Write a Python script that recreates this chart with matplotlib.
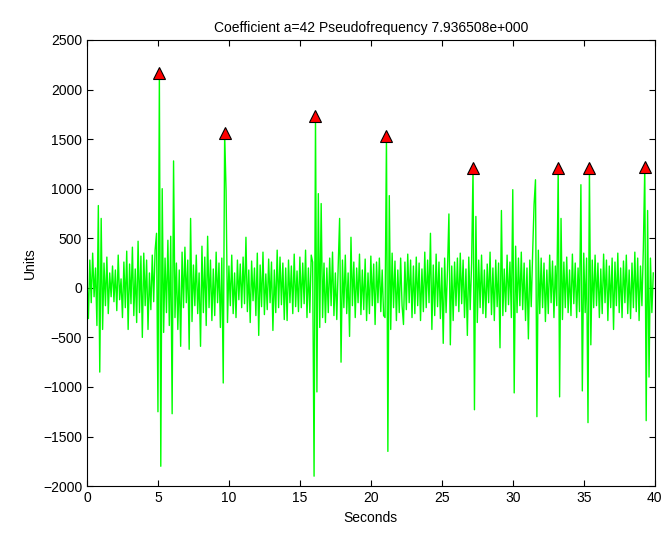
import numpy as np
import matplotlib.pyplot as plt

plt.rcParams['font.family'] = ['Liberation Sans', 'DejaVu Sans']

# signal sampled every 0.1 s, one row per second
step = 0.1
signal = [
    120, -310, 280, -150, 350, -90, 200, -380, 830, -850,
    700, -420, 250, -180, 310, -260, 150, -90, 220, -140,
    180, -230, 330, -120, 90, -300, 260, -200, 370, -420,
    240, -160, 410, -280, 190, -350, 470, -250, 320, -500,
    350, -180, 280, -420, 150, -220, 330, -140, 380, 550,
    -1250, 2170, -1800, 1000, -450, 300, -250, 480, -380, 520,
    -1270, 1280, -300, 250, -420, 180, -590, 360, -200, 410,
    -150, 280, -620, 700, -340, 230, -180, 330, -260, 150,
    -590, 420, -250, 310, -380, 520, -200, 280, -330, 190,
    -280, 360, -150, 250, -400, 300, -960, 1560, 980, -350,
    220, -180, 330, -260, 150, -300, 280, -120, 240, -200,
    310, -160, 510, -240, 180, -350, 270, -130, 200, -280,
    350, -480, 230, -190, 360, -270, 140, -220, 290, -150,
    260, -430, 180, -250, 380, -200, 310, -170, 250, -320,
    200, -330, 280, -150, 220, -260, 340, -190, 170, -240,
    310, -200, 250, -160, 380, -300, 200, -250, 330, 260,
    -1900, 1730, -1050, 950, -400, 850, -300, 250, -350, 200,
    -250, 300, -180, 360, -280, 150, -320, 220, 700, -750,
    280, -200, 330, -260, 150, -490, 510, -180, 260, -300,
    200, -150, 340, -270, 180, -220, 290, -330, 150, -260,
    320, -180, 240, -370, 260, -150, 300, -240, 180, -280,
    -300, 1530, -1650, 930, -420, 350, -200, 270, -330, 180,
    -250, 300, -180, -370, 260, -220, 340, -150, 280, -300,
    220, -260, 310, -180, 250, -330, 190, -240, 360, -200,
    280, -150, 550, -420, 230, -280, 340, -190, 260, -310,
    200, -560, 300, -250, 180, 745, -575, 220, -330, 260,
    -180, 300, -240, 350, -160, 280, -300, 190, -480, 310,
    -220, 250, 1210, -1230, 720, -350, 280, -200, 330, -260,
    180, -300, 240, -150, 360, -270, 200, -330, 280, -190,
    250, -605, 780, -280, 190, -240, 330, -170, 260, -300,
    990, -1060, 420, -250, 300, -180, 360, -220, 250, -330,
    200, -515, 280, -190, 350, 840, 1090, -1300, 380, -260,
    300, -200, 250, -340, 180, -260, 330, -150, 270, -300,
    220, -180, 1210, -1100, 700, -320, 260, -200, 310, -250,
    180, -280, 340, -160, 250, -300, 200, -240, 1040, -1040,
    350, -250, 300, -1360, 1210, -575, 280, -200, 330, -180,
    250, -300, 190, -260, 340, -150, 280, -330, 220, -200,
    300, -420, 260, -180, 350, -250, 200, -300, 270, -150,
    330, -260, 180, -310, 250, -200, 360, -240, 300, -330,
    220, -180, 400, 1215, -1340, 780, -900, 300, -250, 150,
]
peak_times = [5.1, 9.7, 16.1, 21.1, 27.2, 33.2, 35.4, 39.3]

signal = np.array(signal, dtype=float)
t = np.arange(len(signal)) * step
peak_idx = [int(round(p / step)) for p in peak_times]

fig = plt.figure(figsize=(6.64, 5.33), dpi=100)
ax = fig.add_axes([0.131, 0.088, 0.855, 0.837])

ax.plot(t, signal, color='#00ff00', linewidth=1.0)
ax.plot(t[peak_idx], signal[peak_idx], linestyle='none', marker='^',
        markersize=9, markerfacecolor='red', markeredgecolor='black',
        markeredgewidth=0.8)

ax.set_xlim(0, 40)
ax.set_ylim(-2000, 2500)
ax.set_xticks(range(0, 41, 5))
ax.set_yticks(range(-2000, 2501, 500))
ax.tick_params(direction='in', top=True, right=True, length=4, labelsize=10)
for s in ax.spines.values():
    s.set_linewidth(0.8)

ax.set_title('Coefficient a=42 Pseudofrequency 7.936508e+000', fontsize=10)
ax.set_xlabel('Seconds', fontsize=10)
ax.set_ylabel('Units', fontsize=10)

fig.savefig('out.png', dpi=100)
